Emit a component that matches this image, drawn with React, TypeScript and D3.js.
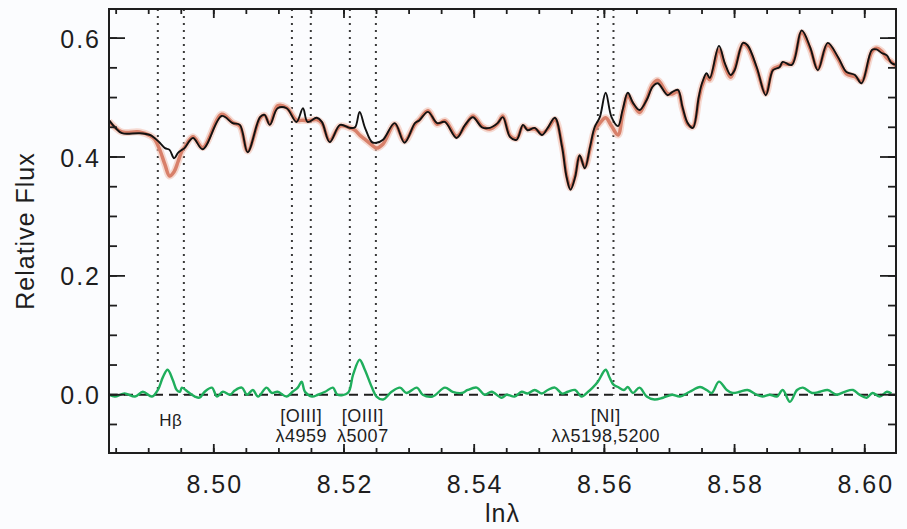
import React from 'react';
import * as d3 from 'd3';

// observed spectrum (black) as [ln lambda, relative flux]
const observed: [number, number][] = [
  [8.4839, .462], [8.4848, .450], [8.4859, .440], [8.4886, .440], [8.4902, .437], [8.4909, .432],
  [8.4917, .424], [8.4925, .415], [8.4932, .412], [8.4939, .398], [8.4945, .407], [8.4951, .412],
  [8.4955, .415], [8.4968, .432], [8.4983, .413], [8.5012, .469], [8.5029, .457], [8.5040, .454],
  [8.5052, .408], [8.5071, .467], [8.5078, .471], [8.5086, .454], [8.5098, .482], [8.5112, .482],
  [8.5127, .459], [8.5137, .482], [8.5144, .459], [8.5158, .466], [8.5166, .459], [8.5178, .425],
  [8.5194, .454], [8.5209, .449], [8.5217, .450], [8.5224, .476], [8.5232, .450], [8.5243, .425],
  [8.5250, .424], [8.5260, .429], [8.5278, .457], [8.5293, .424], [8.5309, .457], [8.5316, .462],
  [8.5329, .476], [8.5343, .457], [8.5355, .459], [8.5373, .432], [8.5386, .454], [8.5398, .467],
  [8.5412, .450], [8.5424, .449], [8.5436, .457], [8.5444, .467], [8.5455, .434], [8.5465, .429],
  [8.5475, .454], [8.5482, .445], [8.5493, .449], [8.5504, .437], [8.5513, .449], [8.5524, .466],
  [8.5535, .417], [8.5542, .366], [8.5548, .345], [8.5555, .366], [8.5562, .403], [8.5570, .381],
  [8.5578, .417], [8.5585, .450], [8.5593, .467], [8.5602, .508], [8.5611, .467], [8.5621, .452],
  [8.5628, .479], [8.5636, .508], [8.5644, .491], [8.5654, .479], [8.5665, .496], [8.5674, .518],
  [8.5682, .524], [8.5697, .504], [8.5704, .509], [8.5713, .513], [8.5720, .484], [8.5728, .457],
  [8.5736, .449], [8.5745, .501], [8.5750, .524], [8.5757, .541], [8.5762, .533], [8.5776, .587],
  [8.5785, .558], [8.5794, .538], [8.5800, .546], [8.5813, .592], [8.5820, .588], [8.5834, .551],
  [8.5848, .504], [8.5859, .546], [8.5869, .551], [8.5874, .560], [8.5888, .555], [8.5903, .613],
  [8.5916, .585], [8.5928, .546], [8.5943, .592], [8.5959, .568], [8.5972, .543], [8.5985, .538],
  [8.5995, .524], [8.6011, .580], [8.6018, .581], [8.6026, .575], [8.6034, .571], [8.6041, .558],
  [8.6048, .555],
];

// stellar population fit (red)
const model: [number, number][] = [
  [8.4839, .460], [8.4848, .450], [8.4859, .442], [8.4886, .442], [8.4902, .436], [8.4909, .430],
  [8.4917, .412], [8.4925, .387], [8.4932, .368], [8.4939, .375], [8.4945, .392], [8.4951, .410],
  [8.4955, .416], [8.4968, .434], [8.4983, .416], [8.5012, .472], [8.5029, .458], [8.5040, .452],
  [8.5052, .410], [8.5071, .465], [8.5078, .470], [8.5086, .456], [8.5098, .486], [8.5112, .483],
  [8.5127, .462], [8.5137, .462], [8.5144, .461], [8.5158, .463], [8.5166, .457], [8.5178, .428],
  [8.5194, .452], [8.5209, .449], [8.5217, .445], [8.5224, .437], [8.5232, .430], [8.5243, .420],
  [8.5250, .415], [8.5260, .422], [8.5278, .455], [8.5293, .427], [8.5309, .455], [8.5316, .463],
  [8.5329, .478], [8.5343, .455], [8.5355, .461], [8.5373, .435], [8.5386, .452], [8.5398, .469],
  [8.5412, .452], [8.5424, .447], [8.5436, .456], [8.5444, .469], [8.5455, .436], [8.5465, .431],
  [8.5475, .452], [8.5482, .447], [8.5493, .447], [8.5504, .440], [8.5513, .447], [8.5524, .463],
  [8.5535, .420], [8.5542, .369], [8.5548, .348], [8.5555, .368], [8.5562, .401], [8.5570, .384],
  [8.5578, .414], [8.5585, .445], [8.5593, .457], [8.5602, .466], [8.5611, .452], [8.5621, .437],
  [8.5628, .472], [8.5636, .503], [8.5644, .489], [8.5654, .475], [8.5665, .498], [8.5674, .522],
  [8.5682, .529], [8.5697, .507], [8.5704, .506], [8.5713, .510], [8.5720, .482], [8.5728, .455],
  [8.5736, .451], [8.5745, .497], [8.5750, .520], [8.5757, .535], [8.5762, .530], [8.5776, .580],
  [8.5785, .552], [8.5794, .534], [8.5800, .548], [8.5813, .590], [8.5820, .585], [8.5834, .548],
  [8.5848, .507], [8.5859, .548], [8.5869, .553], [8.5874, .557], [8.5888, .557], [8.5903, .609],
  [8.5916, .582], [8.5928, .549], [8.5943, .588], [8.5959, .565], [8.5972, .540], [8.5985, .535],
  [8.5995, .527], [8.6011, .577], [8.6018, .583], [8.6026, .578], [8.6034, .566], [8.6041, .560],
  [8.6048, .553],
];

// residual = observed - model (green)
const residual: [number, number][] = [
  [8.4839, .000], [8.4848, -.003], [8.4863, .002], [8.4879, -.003], [8.4891, .005], [8.4905, -.003],
  [8.4914, .008], [8.4922, .030], [8.4929, .042], [8.4937, .025], [8.4943, .008], [8.4948, .005],
  [8.4951, .012], [8.4960, .005], [8.4971, -.003], [8.4978, -.005], [8.4986, .005], [8.4997, .012],
  [8.5005, -.003], [8.5014, .005], [8.5025, .000], [8.5032, .007], [8.5043, .012], [8.5051, .000],
  [8.5060, .008], [8.5068, -.003], [8.5081, .012], [8.5089, .003], [8.5098, .005], [8.5112, -.003],
  [8.5121, .005], [8.5129, .012], [8.5135, .022], [8.5140, .005], [8.5151, -.003], [8.5160, .000],
  [8.5171, .005], [8.5183, .012], [8.5190, .000], [8.5206, .003], [8.5214, .034], [8.5224, .059],
  [8.5232, .042], [8.5243, .012], [8.5250, -.003], [8.5260, -.008], [8.5273, .005], [8.5286, .012],
  [8.5296, .003], [8.5312, .012], [8.5321, .000], [8.5336, -.003], [8.5355, .012], [8.5367, .005],
  [8.5381, .003], [8.5390, .008], [8.5404, .012], [8.5416, .000], [8.5427, .005], [8.5442, -.005],
  [8.5450, .000], [8.5462, -.003], [8.5473, .005], [8.5482, .002], [8.5493, .008], [8.5504, .002],
  [8.5513, .008], [8.5524, .012], [8.5535, .002], [8.5544, .005], [8.5555, .008], [8.5565, -.003],
  [8.5575, .005], [8.5582, .012], [8.5590, .022], [8.5602, .042], [8.5608, .029], [8.5614, .017],
  [8.5621, .013], [8.5630, .008], [8.5636, .013], [8.5644, .003], [8.5654, .012], [8.5665, -.003],
  [8.5677, -.008], [8.5690, -.005], [8.5704, .000], [8.5716, -.003], [8.5731, .005], [8.5747, .013],
  [8.5757, .008], [8.5765, .003], [8.5776, .022], [8.5788, .008], [8.5797, .003], [8.5808, .005],
  [8.5820, .008], [8.5834, .000], [8.5843, -.003], [8.5854, .000], [8.5865, -.003], [8.5874, .008],
  [8.5885, -.012], [8.5896, .008], [8.5905, .012], [8.5919, .003], [8.5931, .005], [8.5943, .008],
  [8.5957, .000], [8.5969, .005], [8.5982, .008], [8.5992, .000], [8.6003, -.005], [8.6012, .003],
  [8.6023, -.003], [8.6034, .005], [8.6041, .002],
];

// emission line windows (dotted lines) and their labels
const lineWindows = [
  { lo: 8.4914, hi: 8.4954, label: ['Hβ'] },
  { lo: 8.5120, hi: 8.5149, label: ['[OIII]', 'λ4959'] },
  { lo: 8.5209, hi: 8.5249, label: ['[OIII]', 'λ5007'] },
  { lo: 8.5590, hi: 8.5614, label: ['[NI]', 'λλ5198,5200'] },
];

const xTicks = [8.50, 8.52, 8.54, 8.56, 8.58, 8.60];
const yTicks = [0.0, 0.2, 0.4, 0.6];

const W = 907;
const H = 529;
const left = 109, right = 896, top = 9, bottom = 453;
const ink = '#1e1e1e';
const font = '"Liberation Sans", Arial, sans-serif';

export default function App() {
  const x = d3.scaleLinear().domain([8.4839, 8.6048]).range([left, right]);
  const y = d3.scaleLinear().domain([-0.098, 0.649]).range([bottom, top]);

  const line = d3.line<[number, number]>()
    .x(d => x(d[0]))
    .y(d => y(d[1]))
    .curve(d3.curveCatmullRom.alpha(0.5));

  const xMinor = d3.range(8.485, 8.6049, 0.005);
  const yMinor = d3.range(-0.05, 0.649, 0.05);

  return (
    <svg width={W} height={H} style={{ position: 'absolute', left: 0, top: 0, background: '#fbfcfe' }}>
      <defs>
        <clipPath id="plot">
          <rect x={left} y={top} width={right - left} height={bottom - top} />
        </clipPath>
      </defs>

      {/* dotted line windows */}
      <g stroke="#3a3a3a" strokeWidth={2} strokeDasharray="2,5">
        {lineWindows.flatMap((w, i) => [w.lo, w.hi].map((v, j) => (
          <line key={`${i}-${j}`} x1={x(v)} x2={x(v)} y1={top} y2={y(0)} />
        )))}
      </g>

      {/* zero line */}
      <line x1={left} x2={right} y1={y(0)} y2={y(0)} stroke={ink} strokeWidth={1.8} strokeDasharray="9,6" />

      <g clipPath="url(#plot)" fill="none" strokeLinejoin="round">
        <path d={line(model) ?? ''} stroke="#f1c2b2" strokeWidth={7} opacity={0.6} />
        <path d={line(model) ?? ''} stroke="#d8806a" strokeWidth={3.5} />
        <path d={line(observed) ?? ''} stroke="#111" strokeWidth={1.9} />
        <path d={line(residual) ?? ''} stroke="#1fae5c" strokeWidth={2.4} />
      </g>

      {/* frame */}
      <rect x={left} y={top} width={right - left} height={bottom - top} fill="none" stroke={ink} strokeWidth={2} />

      {/* x ticks, bottom and top; y ticks, left and right */}
      <g stroke={ink} strokeWidth={1.8}>
        {xMinor.map((v, i) => (
          <g key={i}>
            <line x1={x(v)} x2={x(v)} y1={bottom} y2={bottom - 5} />
            <line x1={x(v)} x2={x(v)} y1={top} y2={top + 5} />
          </g>
        ))}
        {xTicks.map(v => (
          <g key={v}>
            <line x1={x(v)} x2={x(v)} y1={bottom} y2={bottom - 9} />
            <line x1={x(v)} x2={x(v)} y1={top} y2={top + 9} />
          </g>
        ))}
        {yMinor.map((v, i) => (
          <g key={i}>
            <line x1={left} x2={left + 8} y1={y(v)} y2={y(v)} />
            <line x1={right} x2={right - 8} y1={y(v)} y2={y(v)} />
          </g>
        ))}
        {yTicks.map(v => (
          <g key={v}>
            <line x1={left} x2={left + 16} y1={y(v)} y2={y(v)} />
            <line x1={right} x2={right - 16} y1={y(v)} y2={y(v)} />
          </g>
        ))}
      </g>

      {/* tick labels */}
      <g fontFamily={font} fontSize={25} fill={ink} letterSpacing={2}>
        {xTicks.map(v => (
          <text key={v} x={x(v) + 1} y={493} textAnchor="middle">{v.toFixed(2)}</text>
        ))}
        {yTicks.map(v => (
          <text key={v} x={101} y={y(v) + 9.5} textAnchor="end">{v.toFixed(1)}</text>
        ))}
      </g>

      {/* line labels */}
      <g fontFamily={font} fill={ink} textAnchor="middle" letterSpacing={0.5}>
        {lineWindows.map((w, i) => {
          const cx = x((w.lo + w.hi) / 2);
          if (w.label.length === 1) {
            return <text key={i} x={cx} y={426} fontSize={17}>{w.label[0]}</text>;
          }
          return (
            <g key={i} fontSize={18}>
              <text x={cx} y={422}>{w.label[0]}</text>
              <text x={cx} y={442}>{w.label[1]}</text>
            </g>
          );
        })}
      </g>

      {/* axis titles */}
      <text x={(left + right) / 2} y={522} textAnchor="middle" fontFamily={font} fontSize={25} fill={ink} letterSpacing={1}>lnλ</text>
      <text transform={`translate(34,${(top + bottom) / 2}) rotate(-90)`} textAnchor="middle"
        fontFamily={font} fontSize={25} fill={ink} letterSpacing={1}>Relative Flux</text>
    </svg>
  );
}
